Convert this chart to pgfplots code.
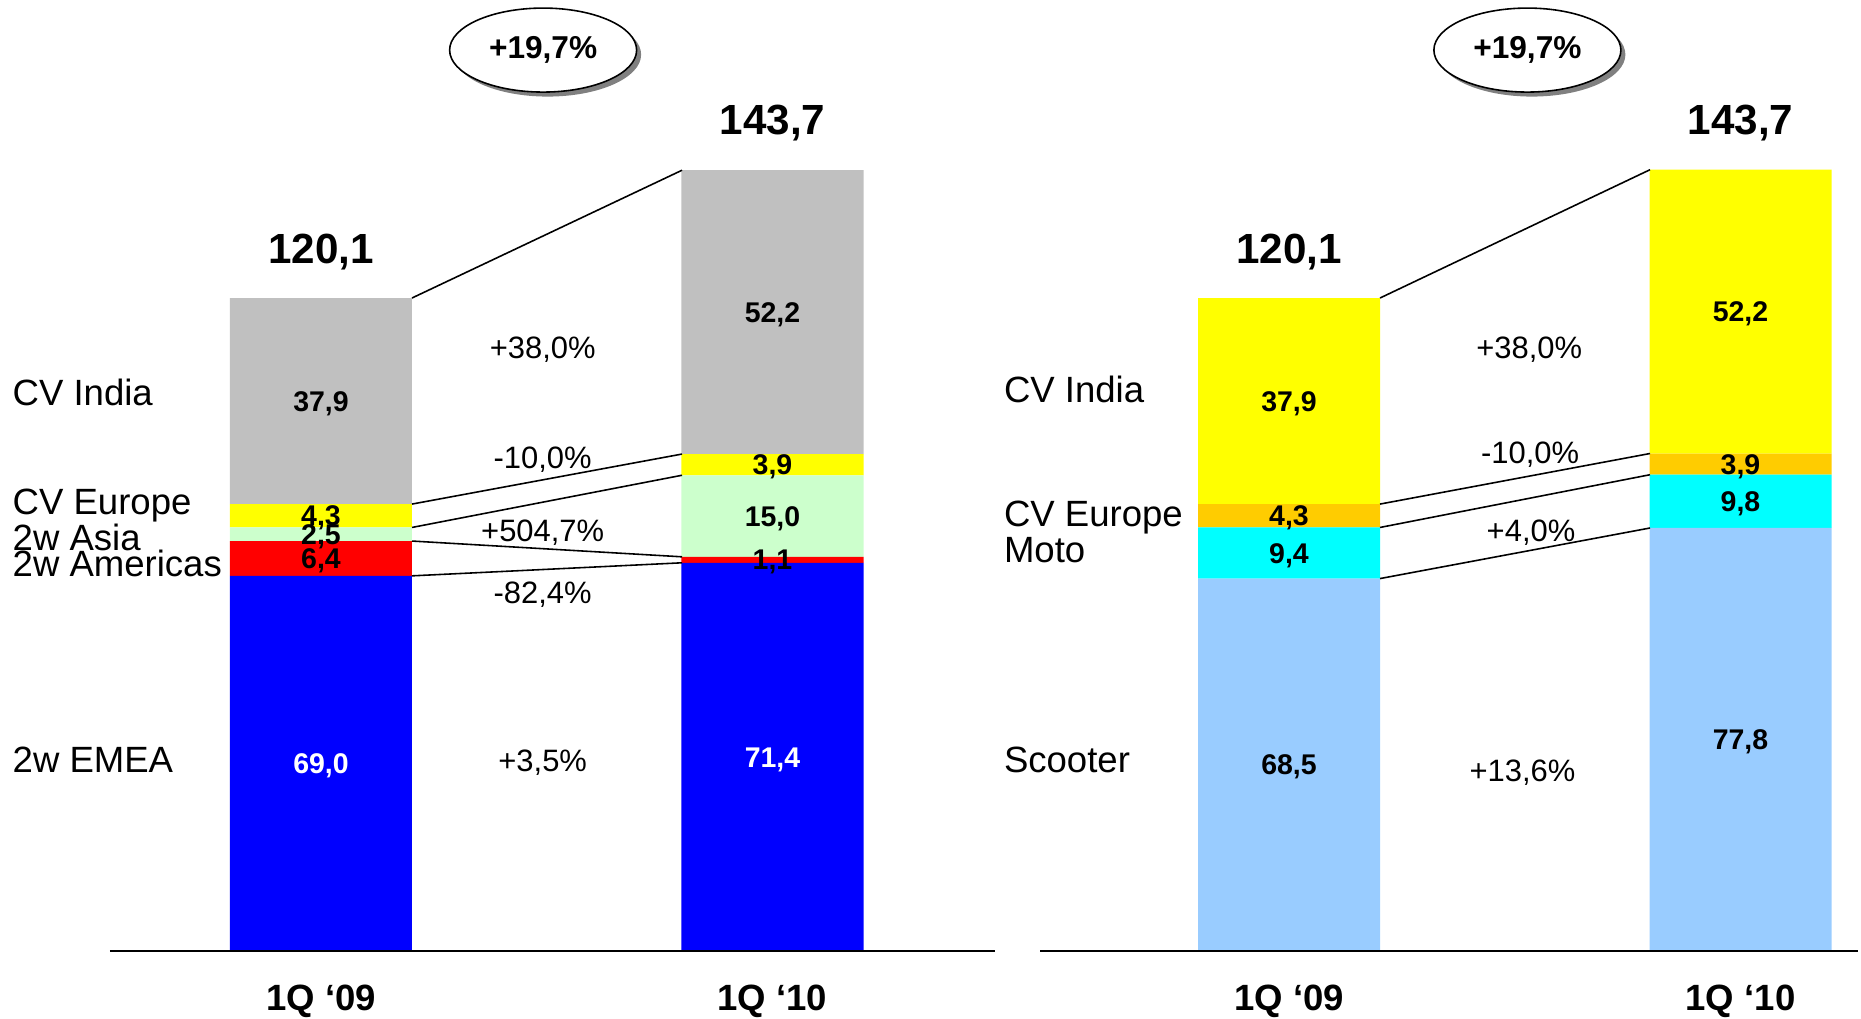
\documentclass[border=0pt]{standalone}
\usepackage{fontspec}
\setmainfont{Liberation Sans}
\usepackage{pgfplots}
\pgfplotsset{compat=1.18}
\usetikzlibrary{shapes.geometric,shadows}

% segment colours
\definecolor{cvgray}{HTML}{C0C0C0}
\definecolor{cvyellow}{HTML}{FFFF00}
\definecolor{asiagreen}{HTML}{CCFFCC}
\definecolor{amred}{HTML}{FF0000}
\definecolor{emeablue}{HTML}{0000FF}
\definecolor{cvorange}{HTML}{FFCC00}
\definecolor{motocyan}{HTML}{00FFFF}
\definecolor{scooterblue}{HTML}{99CCFF}

\pgfplotsset{
  panel/.style={scale only axis, height=95.1mm, ymin=0, ymax=174.91,
    clip=false, axis lines=none, xtick=\empty, ytick=\empty},
  leftpanel/.style={panel, at={(11mm,6.7mm)}, anchor=south west,
    width=88.5mm, xmin=-0.4673, xmax=1.4928},
  rightpanel/.style={panel, at={(104mm,6.7mm)}, anchor=south west,
    width=81.8mm, xmin=-0.5515, xmax=1.2602},
  conn/.style={black, line width=0.45pt, mark=none},
}
\tikzset{
  val/.style={font={\bfseries\fontsize{8.1}{9}\selectfont}, anchor=base, yshift=-2.9pt, inner sep=0pt},
  pct/.style={font={\fontsize{8.8}{10}\selectfont}, anchor=base, yshift=-3.15pt, inner sep=0pt},
  cat/.style={font={\fontsize{10.4}{12}\selectfont}, anchor=base west, inner sep=0pt},
  tot/.style={font={\bfseries\fontsize{12}{14}\selectfont}, anchor=base, inner sep=0pt},
  qtr/.style={font={\bfseries\fontsize{10.4}{12}\selectfont}, anchor=base, inner sep=0pt},
  growth/.style={ellipse, draw=black, line width=0.45pt, fill=white,
    minimum width=18.7mm, minimum height=8.4mm, inner sep=0pt,
    font={\bfseries\fontsize{9}{10}\selectfont},
    drop shadow={shadow xshift=0.45mm, shadow yshift=-0.45mm, fill=gray, opacity=1}},
}

\begin{document}
\begin{tikzpicture}
\useasboundingbox (0,0) rectangle (186.1mm,101.8mm);

% ---------- left panel: by business line ----------
\begin{axis}[leftpanel, ybar stacked, bar width=18.2mm]
\addplot[fill=emeablue, draw=none]  coordinates {(0,69.0) (1,71.4)};
\addplot[fill=amred, draw=none]     coordinates {(0,6.4)  (1,1.1)};
\addplot[fill=asiagreen, draw=none] coordinates {(0,2.5)  (1,15.0)};
\addplot[fill=cvyellow, draw=none]  coordinates {(0,4.3)  (1,3.9)};
\addplot[fill=cvgray, draw=none]    coordinates {(0,37.9) (1,52.2)};
\end{axis}

\begin{axis}[leftpanel]
\draw[line width=0.45pt] (axis cs:-0.4673,0) -- (axis cs:1.4928,0);
% connectors between segment boundaries
\addplot[conn] coordinates {(0.2016,120.1) (0.7996,143.6)};
\addplot[conn] coordinates {(0.2016,82.2)  (0.7996,91.4)};
\addplot[conn] coordinates {(0.2016,77.9)  (0.7996,87.5)};
\addplot[conn] coordinates {(0.2016,75.4)  (0.7996,72.5)};
\addplot[conn] coordinates {(0.2016,69.0)  (0.7996,71.4)};
% segment values
\node[val, white] at (axis cs:0,34.5)   {69,0};
\node[val] at (axis cs:0,72.2)   {6,4};
\node[val] at (axis cs:0,76.65)  {2,5};
\node[val] at (axis cs:0,80.05)  {4,3};
\node[val] at (axis cs:0,101.15) {37,9};
\node[val, white] at (axis cs:1,35.7)   {71,4};
\node[val] at (axis cs:1,71.95)  {1,1};
\node[val] at (axis cs:1,80.0)   {15,0};
\node[val] at (axis cs:1,89.45)  {3,9};
\node[val] at (axis cs:1,117.5)  {52,2};
% totals
\node[tot] at (axis cs:0,126.4) {120,1};
\node[tot] at (axis cs:1,150.1) {143,7};
\node[growth] at (axis cs:0.492,165.7) {+19,7\%};
% changes
\node[pct] at (axis cs:0.491,111.0) {+38,0\%};
\node[pct] at (axis cs:0.491,90.77) {-10,0\%};
\node[pct] at (axis cs:0.491,77.43) {+504,7\%};
\node[pct] at (axis cs:0.491,66.03) {-82,4\%};
\node[pct] at (axis cs:0.491,35.13) {+3,5\%};
% segment names
\node[cat] at (axis cs:-0.6844,100.4) {CV India};
\node[cat] at (axis cs:-0.6844,80.3)  {CV Europe};
\node[cat] at (axis cs:-0.6844,73.6)  {2w Asia};
\node[cat] at (axis cs:-0.6844,68.8)  {2w Americas};
\node[cat] at (axis cs:-0.6844,32.8)  {2w EMEA};
% periods
\node[qtr] at (axis cs:0,-11.0) {1Q ‘09};
\node[qtr] at (axis cs:1,-11.0) {1Q ‘10};
\end{axis}

% ---------- right panel: by product ----------
\begin{axis}[rightpanel, ybar stacked, bar width=18.2mm]
\addplot[fill=scooterblue, draw=none] coordinates {(0,68.5) (1,77.8)};
\addplot[fill=motocyan, draw=none]    coordinates {(0,9.4)  (1,9.8)};
\addplot[fill=cvorange, draw=none]    coordinates {(0,4.3)  (1,3.9)};
\addplot[fill=cvyellow, draw=none]    coordinates {(0,37.9) (1,52.2)};
\end{axis}

\begin{axis}[rightpanel]
\draw[line width=0.45pt] (axis cs:-0.5515,0) -- (axis cs:1.2602,0);
\addplot[conn] coordinates {(0.2016,120.1) (0.7996,143.7)};
\addplot[conn] coordinates {(0.2016,82.2)  (0.7996,91.5)};
\addplot[conn] coordinates {(0.2016,77.9)  (0.7996,87.6)};
\addplot[conn] coordinates {(0.2016,68.5)  (0.7996,77.8)};
\node[val] at (axis cs:0,34.25)  {68,5};
\node[val] at (axis cs:0,73.2)   {9,4};
\node[val] at (axis cs:0,80.05)  {4,3};
\node[val] at (axis cs:0,101.15) {37,9};
\node[val] at (axis cs:1,38.9)   {77,8};
\node[val] at (axis cs:1,82.7)   {9,8};
\node[val] at (axis cs:1,89.55)  {3,9};
\node[val] at (axis cs:1,117.6)  {52,2};
\node[tot] at (axis cs:0,126.4) {120,1};
\node[tot] at (axis cs:1,150.1) {143,7};
\node[growth] at (axis cs:0.528,165.7) {+19,7\%};
\node[pct] at (axis cs:0.532,111.0) {+38,0\%};
\node[pct] at (axis cs:0.534,91.63) {-10,0\%};
\node[pct] at (axis cs:0.536,77.29) {+4,0\%};
\node[pct] at (axis cs:0.517,33.14) {+13,6\%};
\node[cat] at (axis cs:-0.6328,100.85) {CV India};
\node[cat] at (axis cs:-0.6328,78.05)  {CV Europe};
\node[cat] at (axis cs:-0.6328,71.5)   {Moto};
\node[cat] at (axis cs:-0.6328,32.8)   {Scooter};
\node[qtr] at (axis cs:0,-11.0) {1Q ‘09};
\node[qtr] at (axis cs:1,-11.0) {1Q ‘10};
\end{axis}
\end{tikzpicture}
\end{document}
